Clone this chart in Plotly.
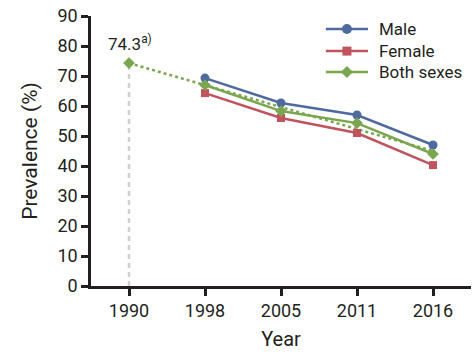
import plotly.graph_objects as go

years = ["1990", "1998", "2005", "2011", "2016"]
male = [None, 69.3, 61.0, 57.0, 47.0]
female = [None, 64.3, 56.0, 51.0, 40.3]
both = [None, 67.0, 58.3, 54.3, 44.0]
trend = [74.3, 67.0, 59.6, 52.3, 45.0]
ref_vals = [0, 74.3]
series_names = ["Male", "Female", "Both sexes"]

FONT = "Roboto, Arial, sans-serif"
TXT = "#231f20"
C_M = "#4e6a9f"
C_F = "#c0545e"
C_B = "#7aa64f"

fig = go.Figure()
fig.add_trace(go.Scatter(x=[years[0], years[0]], y=ref_vals, mode="lines",
                         line=dict(color="#d0d0d0", width=2.5, dash="5px,4px"),
                         showlegend=False, hoverinfo="skip"))
fig.add_trace(go.Scatter(x=years, y=trend, mode="lines",
                         line=dict(color=C_B, width=2.5, dash="dot"),
                         showlegend=False))
fig.add_trace(go.Scatter(x=years[:1], y=trend[:1], mode="markers",
                         marker=dict(symbol="diamond", size=9, color=C_B),
                         showlegend=False))
fig.add_trace(go.Scatter(x=years, y=male, name=series_names[0], mode="lines+markers",
                         line=dict(color=C_M, width=2.5),
                         marker=dict(symbol="circle", size=9, color=C_M), showlegend=False))
fig.add_trace(go.Scatter(x=years, y=female, name=series_names[1], mode="lines+markers",
                         line=dict(color=C_F, width=2.5),
                         marker=dict(symbol="square", size=8, color=C_F), showlegend=False))
fig.add_trace(go.Scatter(x=years, y=both, name=series_names[2], mode="lines+markers",
                         line=dict(color=C_B, width=2.5),
                         marker=dict(symbol="diamond", size=9, color=C_B), showlegend=False))

fig.add_annotation(x=0, y=trend[0], text="74.3<sup>a)</sup>", showarrow=False,
                   yshift=20, xshift=1, font=dict(family=FONT, size=17, color=TXT))

# manual legend (paper coordinates)
leg_rows = [0.952, 0.870, 0.793]
leg_cols = [C_M, C_F, C_B]
x0, x1, xm, xt = 0.618, 0.729, 0.6735, 0.755
for i, (yy, col, nm) in enumerate(zip(leg_rows, leg_cols, series_names)):
    fig.add_shape(type="line", xref="paper", yref="paper", x0=x0, x1=x1, y0=yy, y1=yy,
                  line=dict(color=col, width=2.5))
    if i == 0:
        fig.add_shape(type="circle", xref="paper", yref="paper", xsizemode="pixel",
                      ysizemode="pixel", xanchor=xm, yanchor=yy, x0=-5, x1=5, y0=-5, y1=5,
                      fillcolor=col, line=dict(width=0))
    elif i == 1:
        fig.add_shape(type="rect", xref="paper", yref="paper", xsizemode="pixel",
                      ysizemode="pixel", xanchor=xm, yanchor=yy, x0=-4.5, x1=4.5, y0=-4.5, y1=4.5,
                      fillcolor=col, line=dict(width=0))
    else:
        fig.add_shape(type="path", xref="paper", yref="paper", xsizemode="pixel",
                      ysizemode="pixel", xanchor=xm, yanchor=yy,
                      path="M -6 0 L 0 6 L 6 0 L 0 -6 Z",
                      fillcolor=col, line=dict(width=0))
    fig.add_annotation(x=xt, y=yy, xref="paper", yref="paper", text=nm, showarrow=False,
                       xanchor="left", yanchor="middle", borderpad=0,
                       font=dict(family=FONT, size=17, color=TXT))

fig.update_layout(
    width=475, height=355,
    margin=dict(l=91, r=4, t=16, b=69),
    paper_bgcolor="white", plot_bgcolor="white",
    font=dict(family=FONT, size=18, color=TXT),
    showlegend=False,
)
fig.update_xaxes(type="category", categoryorder="array", categoryarray=years,
                 range=[-0.5, 4.5], showline=True, linecolor=TXT, linewidth=2.5,
                 ticks="outside", ticklen=7, tickwidth=3, tickcolor=TXT,
                 tickfont=dict(size=18), showgrid=False, zeroline=False,
                 title=dict(text="Year", font=dict(size=20), standoff=12))
fig.update_yaxes(range=[0, 90], dtick=10, showline=True, linecolor=TXT, linewidth=2.5,
                 ticks="outside", ticklen=7, tickwidth=3, tickcolor=TXT,
                 tickfont=dict(size=18), showgrid=False, zeroline=False,
                 title=dict(text="Prevalence (%)", font=dict(size=21), standoff=15))

fig.write_html("out.html")
